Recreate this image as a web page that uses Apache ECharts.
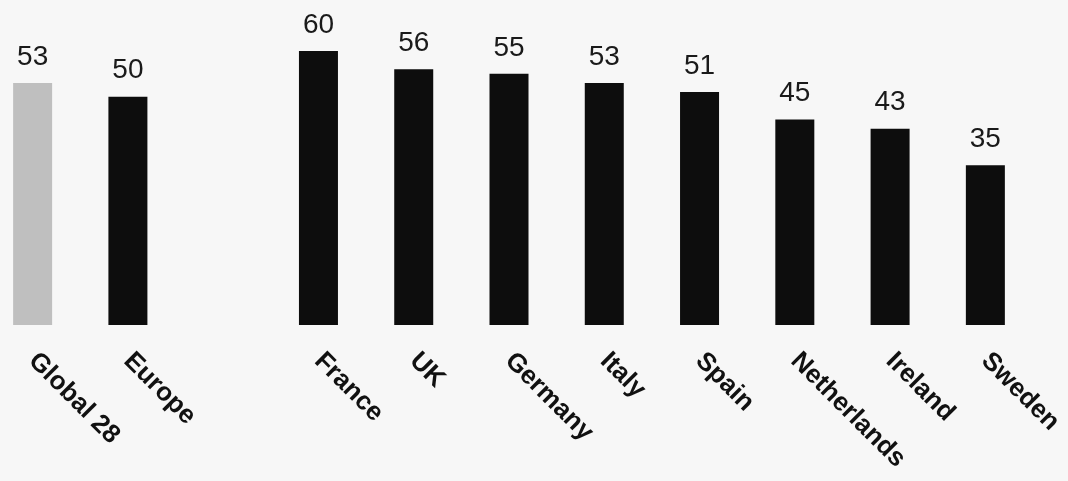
<!DOCTYPE html>
<html><head><meta charset="utf-8">
<script src="https://cdn.jsdelivr.net/npm/echarts@6/dist/echarts.min.js"></script>
<style>html,body{margin:0;padding:0;background:#f7f7f7;overflow:hidden}#c{position:absolute;left:-15px;top:0;width:1083px;height:481px}</style>
</head><body><div id="c"></div>
<script>
const categories = ['Global 28', 'Europe', '', 'France', 'UK', 'Germany', 'Italy', 'Spain', 'Netherlands', 'Ireland', 'Sweden'];
const values = [53, 50, null, 60, 56, 55, 53, 51, 45, 43, 35];
const barColors = ['#bfbfbf', '#0d0d0d', '#0d0d0d', '#0d0d0d', '#0d0d0d', '#0d0d0d', '#0d0d0d', '#0d0d0d', '#0d0d0d', '#0d0d0d', '#0d0d0d'];

const chart = echarts.init(document.getElementById('c'), null, {renderer: 'canvas'});
chart.setOption({
  backgroundColor: '#f7f7f7',
  animation: false,
  grid: {left: 0, right: 35, top: 51, bottom: 156, containLabel: false},
  xAxis: {
    type: 'category', data: categories,
    axisLine: {show: false}, axisTick: {show: false},
    axisLabel: {interval: 0, rotate: -45, margin: 32, color: '#111', fontSize: 26, fontWeight: 'bold', fontFamily: 'Liberation Sans, Arial, sans-serif'}
  },
  yAxis: {type: 'value', min: 0, max: 60, show: false, splitLine: {show: false}},
  series: [{
    type: 'bar', barWidth: 39,
    data: values.map((v, i) => ({value: v, itemStyle: {color: barColors[i]}})),
    label: {show: true, position: 'top', distance: 12, color: '#1a1a1a', fontSize: 28, fontFamily: 'Liberation Sans, Arial, sans-serif'}
  }]
});
</script></body></html>
